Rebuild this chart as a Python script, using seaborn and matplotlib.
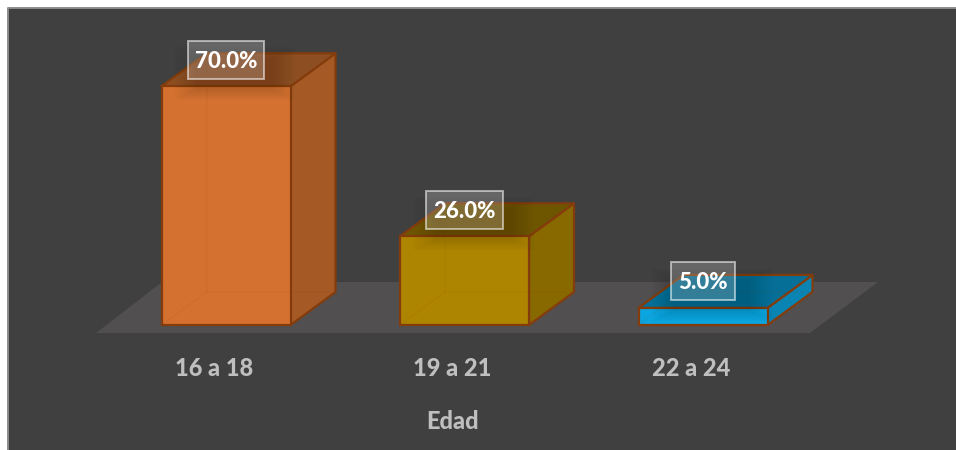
import matplotlib
matplotlib.use("Agg")
import matplotlib.pyplot as plt
from matplotlib.patches import Polygon, Rectangle
from matplotlib.lines import Line2D
from matplotlib.transforms import IdentityTransform, ScaledTranslation
import pandas as pd
import seaborn as sns

# values
edades = ["16 a 18", "19 a 21", "22 a 24"]
porcentajes = [70.0, 26.0, 5.0]
frente = ["#D57130", "#AE8500", "#0BA5DF"]
lateral = ["#A55A25", "#886900", "#0A84B3"]
tapa = ["#8D4F22", "#6E5600", "#066F98"]

W, H = 956, 450
PANEL = "#404040"
SUELO = "#514F50"
BORDE = "#843C0C"
TEXTO = "#BFBFBF"

sns.set_theme(style="white")
plt.rcParams["font.family"] = ["Lato", "DejaVu Sans"]

fig = plt.figure(figsize=(W / 100, H / 100), dpi=100, facecolor="white")
fig.add_artist(Rectangle((8 / W, 0), (W - 8) / W, (H - 8) / H, transform=fig.transFigure,
                         facecolor=PANEL, edgecolor="none", zorder=-2))
fig.add_artist(Line2D([8 / W, 8 / W, 1], [0, (H - 8) / H, (H - 8) / H], transform=fig.transFigure,
                      color="#8C8C8C", lw=1.4, zorder=-1))

# axes runs from the panel top to the front edge of the floor
ax = fig.add_axes([8 / W, (H - 333) / H, (W - 8) / W, (333 - 8) / H])
ax.patch.set_alpha(0)

df = pd.DataFrame({"Edad": edades, "Porcentaje": porcentajes})
sns.barplot(data=df, x="Edad", y="Porcentaje", hue="Edad", palette=frente, legend=False,
            width=129 / 238.5, saturation=1, edgecolor=BORDE, linewidth=1.6, ax=ax, zorder=3)

px_x = 238.5
px_y = 3.41
ax.set_xlim((8 - 226) / px_x, (W - 226) / px_x)
ax.set_ylim(-8 / px_y, (325 - 8) / px_y)

# depth of the fake 3d boxes, in data units
dx = 45 / px_x
dy = 33 / px_y

# floor
ax.add_patch(Polygon([(-130 / px_x, -8 / px_y), (584 / px_x, -8 / px_y),
                      (652 / px_x, 43 / px_y), (-64 / px_x, 43 / px_y)],
                     facecolor=SUELO, edgecolor="none", zorder=1, clip_on=False))

for i, bar in enumerate(ax.patches[:len(edades)]):
    x0 = bar.get_x()
    x1 = x0 + bar.get_width()
    y1 = bar.get_height()
    ax.add_patch(Polygon([(x1, 0), (x1 + dx, dy), (x1 + dx, y1 + dy), (x1, y1)],
                         facecolor=lateral[i], edgecolor=BORDE, lw=1.6, zorder=2, joinstyle="round"))
    ax.add_patch(Polygon([(x0, y1), (x0 + dx, y1 + dy), (x1 + dx, y1 + dy), (x1, y1)],
                         facecolor=tapa[i], edgecolor=BORDE, lw=1.6, zorder=2, joinstyle="round"))
    # hidden edges seen through the faces
    ax.plot([x0 + dx, x0 + dx], [dy, y1 + dy], color=BORDE, lw=1.2, alpha=0.06, zorder=4)
    ax.plot([x0 + dx, x1 + dx], [dy, dy], color=BORDE, lw=1.2, alpha=0.06, zorder=4)
    ax.plot([x0, x0 + dx], [0, dy], color=BORDE, lw=1.2, alpha=0.06, zorder=4)

# value labels
textos = []
for i, v in enumerate(porcentajes):
    textos.append(ax.annotate(f"{v:.1f}%", (i, v), xytext=(0, 18), textcoords="offset points",
                              ha="center", va="center", color="white", fontsize=16,
                              fontweight="black", zorder=8))

ax.set_xlabel("Edad", fontsize=17, fontweight="black", color=TEXTO, labelpad=22)
ax.xaxis.label.set_x((453 - 8) / (W - 8))
ax.set_ylabel("")
ax.set_yticks([])
ax.set_xticks(range(len(edades)), edades)
ax.tick_params(axis="x", length=0, pad=17, labelsize=17, labelcolor=TEXTO)
# category names sit a little left of their bars
corrimiento = ScaledTranslation(-12 / 100, 0, fig.dpi_scale_trans)
for t in ax.get_xticklabels():
    t.set_fontweight("black")
    t.set_transform(t.get_transform() + corrimiento)
sns.despine(ax=ax, left=True, bottom=True)

fig.canvas.draw()
rend = fig.canvas.get_renderer()
for i, t in enumerate(textos):
    bb = t.get_window_extent(rend)
    cx = (bb.x0 + bb.x1) / 2
    cy = ax.transData.transform((i, porcentajes[i]))[1] + 26.5
    # soft shadow under the label
    for grow in range(0, 24, 3):
        ax.add_patch(Rectangle((cx - 30 - grow, cy - 30 - grow / 2), 78 + 2 * grow, 32 + grow,
                               transform=IdentityTransform(), facecolor="black",
                               edgecolor="none", alpha=0.016, zorder=5))
    ax.add_patch(Rectangle((cx - bb.width / 2 - 7, cy - 19), bb.width + 14, 38,
                           transform=IdentityTransform(), facecolor=(1, 1, 1, 0.2),
                           edgecolor=(1, 1, 1, 0.55), lw=1.4, zorder=7))

fig.savefig("out.png", dpi=100, facecolor=fig.get_facecolor())
